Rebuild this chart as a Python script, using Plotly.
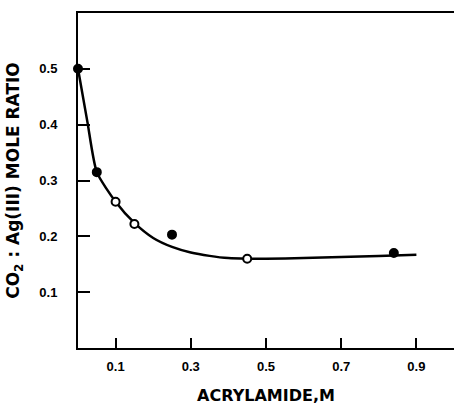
import plotly.graph_objects as go

# Measured points
pts_x = [0.0, 0.05, 0.10, 0.15, 0.25, 0.45, 0.84]
pts_y = [0.50, 0.315, 0.262, 0.222, 0.203, 0.160, 0.170]
pts_open = [False, False, True, True, False, True, False]

# Smooth drawn curve
curve_x = [0.0, 0.025, 0.05, 0.10, 0.15, 0.20, 0.25, 0.30, 0.35, 0.40, 0.45, 0.50, 0.60, 0.70, 0.80, 0.90]
curve_y = [0.50, 0.405, 0.315, 0.262, 0.224, 0.197, 0.181, 0.171, 0.165, 0.161, 0.160, 0.160, 0.161, 0.163, 0.165, 0.167]

x_ticks = [0.1, 0.3, 0.5, 0.7, 0.9]
y_ticks = [0.1, 0.2, 0.3, 0.4, 0.5]

FONT = "Liberation Sans, Arial, sans-serif"
TFONT = "DejaVu Sans, sans-serif"

fig = go.Figure()
fig.add_trace(go.Scatter(
    x=curve_x, y=curve_y, mode="lines",
    line=dict(color="black", width=2.5, shape="spline", smoothing=0.6),
    hoverinfo="skip", showlegend=False))

fill = ["white" if o else "black" for o in pts_open]
fig.add_trace(go.Scatter(
    x=pts_x, y=pts_y, mode="markers",
    marker=dict(size=8, color=fill, line=dict(color="black", width=2)),
    showlegend=False, cliponaxis=False))

fig.update_layout(
    width=454, height=405,
    margin=dict(l=78, r=0, t=13, b=57),
    paper_bgcolor="white", plot_bgcolor="white",
    font=dict(family=FONT, color="black"),
)
fig.update_xaxes(
    range=[0, 1.0], tickvals=x_ticks, ticktext=["0.1", "0.3", "0.5", "0.7", "0.9"],
    ticks="inside", ticklen=10, tickwidth=1.5, tickcolor="black",
    showline=True, linecolor="black", linewidth=2, mirror=True,
    showgrid=False, zeroline=False,
    tickfont=dict(size=13, family=FONT, weight="bold"),
    ticklabelstandoff=5,
    title=dict(text="ACRYLAMIDE,M", font=dict(size=16, family=TFONT, weight="bold"), standoff=17),
)
fig.update_yaxes(
    range=[0, 0.6], tickvals=y_ticks, ticktext=["0.1", "0.2", "0.3", "0.4", "0.5"],
    ticks="inside", ticklen=12, tickwidth=1.5, tickcolor="black",
    showline=True, linecolor="black", linewidth=2, mirror=False,
    showgrid=False, zeroline=False,
    tickfont=dict(size=13, family=FONT, weight="bold"),
    ticklabelstandoff=16,
    title=dict(text="CO<sub>2</sub> : Ag(III) MOLE RATIO", font=dict(size=17, family=TFONT, weight="bold"), standoff=15),
)

fig.write_html("out.html")
